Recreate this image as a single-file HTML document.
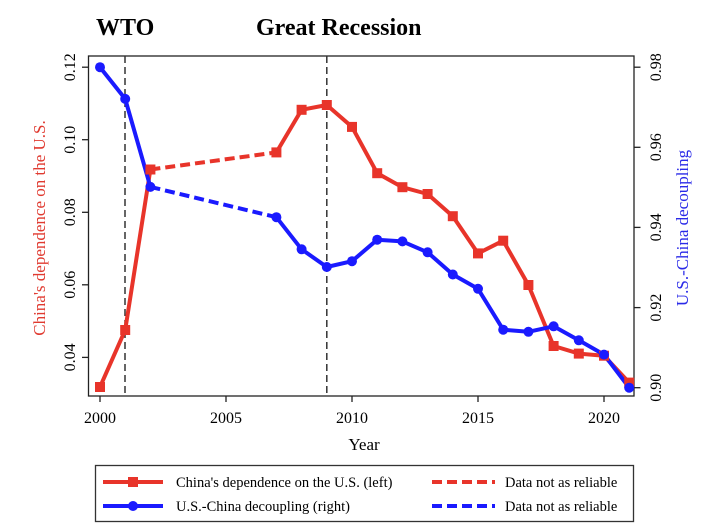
<!DOCTYPE html>
<html><head><meta charset="utf-8"><style>
html,body{margin:0;padding:0;background:#fff;}
svg{display:block;font-family:"Liberation Serif",serif;}
</style></head><body>
<svg width="714" height="532" viewBox="0 0 714 532">
<text x="96" y="35" font-size="24" font-weight="bold">WTO</text>
<text x="256" y="35" font-size="24" font-weight="bold">Great Recession</text>
<rect x="88.5" y="56" width="545.5" height="340" fill="none" stroke="#222" stroke-width="1.3"/>
<g stroke="#222" stroke-width="1.3">
<line x1="100" y1="396" x2="100" y2="402"/><line x1="226" y1="396" x2="226" y2="402"/><line x1="352" y1="396" x2="352" y2="402"/><line x1="478" y1="396" x2="478" y2="402"/><line x1="604" y1="396" x2="604" y2="402"/>
<line x1="82" y1="67.2" x2="88.5" y2="67.2"/><line x1="82" y1="139.7" x2="88.5" y2="139.7"/><line x1="82" y1="212.3" x2="88.5" y2="212.3"/><line x1="82" y1="284.8" x2="88.5" y2="284.8"/><line x1="82" y1="357.4" x2="88.5" y2="357.4"/>
<line x1="634" y1="67.2" x2="640.5" y2="67.2"/><line x1="634" y1="147.3" x2="640.5" y2="147.3"/><line x1="634" y1="227.4" x2="640.5" y2="227.4"/><line x1="634" y1="307.6" x2="640.5" y2="307.6"/><line x1="634" y1="387.7" x2="640.5" y2="387.7"/>
</g>
<g font-size="16" text-anchor="middle">
<text x="100" y="423">2000</text><text x="226" y="423">2005</text><text x="352" y="423">2010</text><text x="478" y="423">2015</text><text x="604" y="423">2020</text>
</g>
<g font-size="16" text-anchor="middle">
<text transform="translate(75,67.2) rotate(-90)">0.12</text>
<text transform="translate(75,139.7) rotate(-90)">0.10</text>
<text transform="translate(75,212.3) rotate(-90)">0.08</text>
<text transform="translate(75,284.8) rotate(-90)">0.06</text>
<text transform="translate(75,357.4) rotate(-90)">0.04</text>
<text transform="translate(661,67.2) rotate(-90)">0.98</text>
<text transform="translate(661,147.3) rotate(-90)">0.96</text>
<text transform="translate(661,227.4) rotate(-90)">0.94</text>
<text transform="translate(661,307.6) rotate(-90)">0.92</text>
<text transform="translate(661,387.7) rotate(-90)">0.90</text>
</g>
<text x="364" y="450" font-size="17" text-anchor="middle">Year</text>
<text transform="translate(45,228) rotate(-90)" font-size="17" text-anchor="middle" fill="#e03a30">China's dependence on the U.S.</text>
<text transform="translate(688,228) rotate(-90)" font-size="17" text-anchor="middle" fill="#2a2ae8">U.S.-China decoupling</text>
<g stroke="#333" stroke-width="1.5" stroke-dasharray="7,4">
<line x1="125" y1="56" x2="125" y2="396"/><line x1="326.8" y1="56" x2="326.8" y2="396"/>
</g>
<g fill="none" stroke-width="4" stroke-linejoin="round">
<polyline stroke="#e8342a" points="100,387 125.2,330 150.4,169.5"/>
<polyline stroke="#e8342a" stroke-dasharray="10,5" points="150.4,169.5 276.4,152.4"/>
<polyline stroke="#e8342a" points="276.4,152.4 301.6,109.8 326.8,105 352,126.9 377.2,173.2 402.4,187.2 427.6,194 452.8,216.2 478,253.4 503.2,240.7 528.4,285 553.6,346 578.8,353.6 604,355.7 629.2,382.6"/>
<polyline stroke="#1a1aff" points="100,67.2 125.2,98.9 150.4,186.9"/>
<polyline stroke="#1a1aff" stroke-dasharray="10,5" points="150.4,186.9 276.4,217.2"/>
<polyline stroke="#1a1aff" points="276.4,217.2 301.6,249.3 326.8,267 352,261.2 377.2,239.7 402.4,241.4 427.6,252.3 452.8,274.5 478,288.8 503.2,329.7 528.4,331.8 553.6,326.3 578.8,340.3 604,354.6 629.2,387.7"/>
</g>
<g fill="#e8342a">
<rect x="95" y="382" width="10" height="10"/><rect x="120.2" y="325" width="10" height="10"/><rect x="145.4" y="164.5" width="10" height="10"/><rect x="271.4" y="147.4" width="10" height="10"/><rect x="296.6" y="104.8" width="10" height="10"/><rect x="321.8" y="100" width="10" height="10"/><rect x="347" y="121.9" width="10" height="10"/><rect x="372.2" y="168.2" width="10" height="10"/><rect x="397.4" y="182.2" width="10" height="10"/><rect x="422.6" y="189" width="10" height="10"/><rect x="447.8" y="211.2" width="10" height="10"/><rect x="473" y="248.4" width="10" height="10"/><rect x="498.2" y="235.7" width="10" height="10"/><rect x="523.4" y="280" width="10" height="10"/><rect x="548.6" y="341" width="10" height="10"/><rect x="573.8" y="348.6" width="10" height="10"/><rect x="599" y="350.7" width="10" height="10"/><rect x="624.2" y="377.6" width="10" height="10"/>
</g>
<g fill="#1a1aff">
<circle cx="100" cy="67.2" r="5"/><circle cx="125.2" cy="98.9" r="5"/><circle cx="150.4" cy="186.9" r="5"/><circle cx="276.4" cy="217.2" r="5"/><circle cx="301.6" cy="249.3" r="5"/><circle cx="326.8" cy="267" r="5"/><circle cx="352" cy="261.2" r="5"/><circle cx="377.2" cy="239.7" r="5"/><circle cx="402.4" cy="241.4" r="5"/><circle cx="427.6" cy="252.3" r="5"/><circle cx="452.8" cy="274.5" r="5"/><circle cx="478" cy="288.8" r="5"/><circle cx="503.2" cy="329.7" r="5"/><circle cx="528.4" cy="331.8" r="5"/><circle cx="553.6" cy="326.3" r="5"/><circle cx="578.8" cy="340.3" r="5"/><circle cx="604" cy="354.6" r="5"/><circle cx="629.2" cy="387.7" r="5"/>
</g>
<rect x="95.5" y="465.5" width="538" height="56" fill="#fff" stroke="#333" stroke-width="1.3"/>
<line x1="103" y1="482" x2="163" y2="482" stroke="#e8342a" stroke-width="4"/>
<rect x="128" y="477" width="10" height="10" fill="#e8342a"/>
<line x1="103" y1="506" x2="163" y2="506" stroke="#1a1aff" stroke-width="4"/>
<circle cx="133" cy="506" r="5" fill="#1a1aff"/>
<line x1="432" y1="482" x2="495" y2="482" stroke="#e8342a" stroke-width="4" stroke-dasharray="10,5"/>
<line x1="432" y1="506" x2="495" y2="506" stroke="#1a1aff" stroke-width="4" stroke-dasharray="10,5"/>
<g font-size="14.5">
<text x="176" y="487">China's dependence on the U.S. (left)</text>
<text x="176" y="511">U.S.-China decoupling (right)</text>
<text x="505" y="487">Data not as reliable</text>
<text x="505" y="511">Data not as reliable</text>
</g>
</svg>
</body></html>
